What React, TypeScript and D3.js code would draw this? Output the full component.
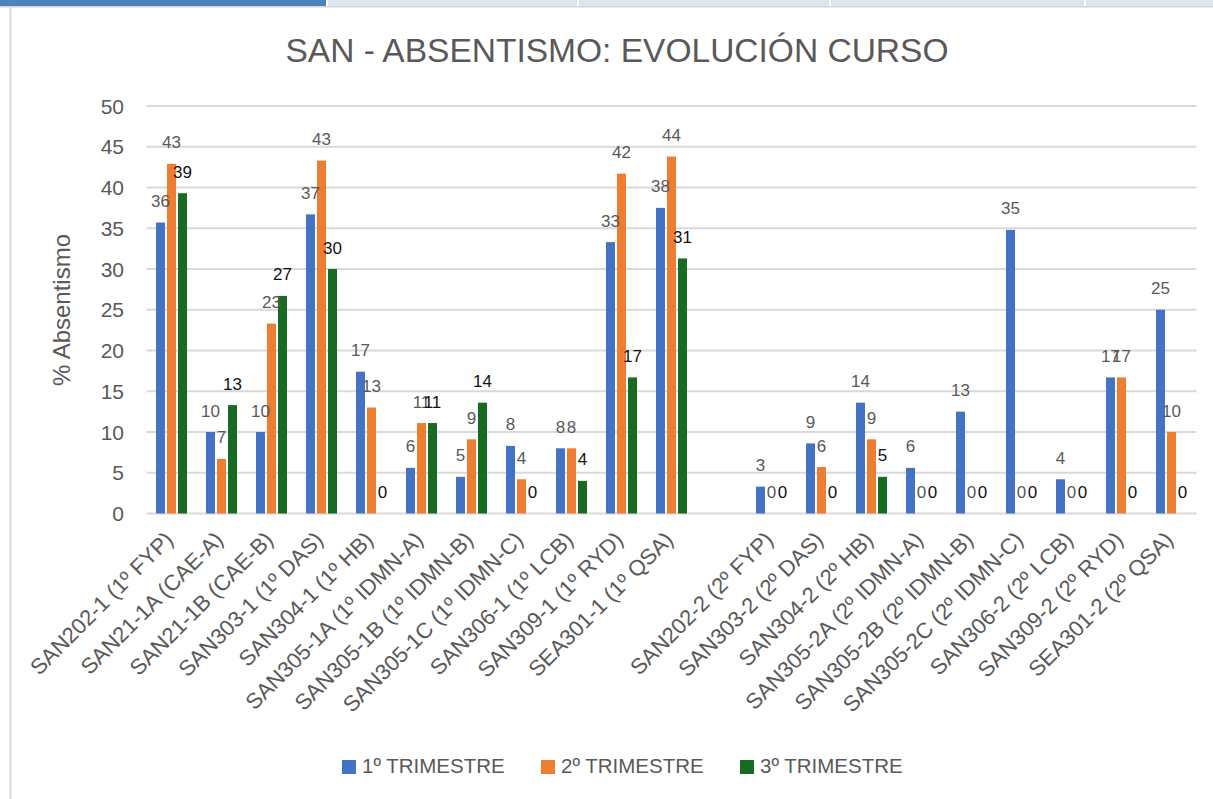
import React from "react";
import * as d3 from "d3";

const categories = [
  "SAN202-1 (1º FYP)", "SAN21-1A (CAE-A)", "SAN21-1B (CAE-B)", "SAN303-1 (1º DAS)",
  "SAN304-1 (1º HB)", "SAN305-1A (1º IDMN-A)", "SAN305-1B (1º IDMN-B)", "SAN305-1C (1º IDMN-C)",
  "SAN306-1 (1º LCB)", "SAN309-1 (1º RYD)", "SEA301-1 (1º QSA)", "",
  "SAN202-2 (2º FYP)", "SAN303-2 (2º DAS)", "SAN304-2 (2º HB)", "SAN305-2A (2º IDMN-A)",
  "SAN305-2B (2º IDMN-B)", "SAN305-2C (2º IDMN-C)", "SAN306-2 (2º LCB)", "SAN309-2 (2º RYD)",
  "SEA301-2 (2º QSA)",
];

const trimestre1: (number | null)[] = [35.7, 10, 10, 36.7, 17.4, 5.6, 4.5, 8.3, 8, 33.3, 37.5, null, 3.3, 8.6, 13.6, 5.6, 12.5, 34.8, 4.2, 16.7, 25];
const trimestre2: (number | null)[] = [42.9, 6.7, 23.3, 43.3, 13, 11.1, 9.1, 4.2, 8, 41.7, 43.8, null, 0, 5.7, 9.1, 0, 0, 0, 0, 16.7, 10];
const trimestre3: (number | null)[] = [39.3, 13.3, 26.7, 30, 0, 11.1, 13.6, 0, 4, 16.7, 31.3, null, 0, 0, 4.5, 0, 0, 0, 0, 0, 0];

const seriesNames = ["1º TRIMESTRE", "2º TRIMESTRE", "3º TRIMESTRE"];
const seriesColors = ["#4472c4", "#ed7d31", "#196b24"];
const labelColors = ["#595959", "#595959", "#111111"];
const yTicks = [0, 5, 10, 15, 20, 25, 30, 35, 40, 45, 50];

const title = "SAN - ABSENTISMO: EVOLUCIÓN CURSO";
const yTitle = "% Absentismo";

const W = 1213;
const H = 799;
const FONT = "'Liberation Sans', Arial, sans-serif";

export default function App() {
  const series = [trimestre1, trimestre2, trimestre3];
  const x = d3.scaleBand<string>().domain(categories.map((c, i) => i + "|" + c)).range([146.5, 1196.5]).padding(0);
  const xs = d3.scaleBand<number>().domain([0, 1, 2]).range([0, x.bandwidth()]).paddingInner(0.182).paddingOuter(0.864);
  const y = d3.scaleLinear().domain([0, 50]).range([513.5, 106]);

  const keys = x.domain();
  const tabs = [
    { x0: 0, x1: 326, c: "#4f81bd" },
    { x0: 328, x1: 577, c: "#dce6f1" },
    { x0: 579, x1: 829, c: "#dce6f1" },
    { x0: 831, x1: 1084, c: "#dce6f1" },
    { x0: 1086, x1: 1213, c: "#dce6f1" },
  ];

  return (
    <svg width={W} height={H} style={{ position: "absolute", left: 0, top: 0, background: "#fff" }} fontFamily={FONT}>
      <rect x={0} y={0} width={W} height={H} fill="#fff" />
      {tabs.map((t, i) => (
        <rect key={i} x={t.x0} y={0} width={t.x1 - t.x0} height={6} fill={t.c} />
      ))}
      <rect x={0} y={6} width={W} height={1.5} fill="#d4d4d4" />
      <rect x={9.5} y={7} width={2} height={H - 7} fill="#d9d9d9" />

      <text x={617} y={62} textAnchor="middle" fontSize={33} fill="#595959" textLength={663} lengthAdjust="spacingAndGlyphs">
        {title}
      </text>

      {yTicks.map((t) => (
        <g key={t}>
          <line x1={146.5} x2={1196.5} y1={y(t)} y2={y(t)} stroke="#d9d9d9" strokeWidth={2} />
          <text x={124} y={y(t)} dy="0.36em" textAnchor="end" fontSize={21} fill="#595959">
            {t}
          </text>
        </g>
      ))}

      <text transform={`translate(70,310) rotate(-90)`} textAnchor="middle" fontSize={24} fill="#595959">
        {yTitle}
      </text>

      {series.map((vals, s) => (
        <g key={s}>
          {vals.map((v, i) =>
            v === null || v === 0 ? null : (
              <rect
                key={i}
                x={(x(keys[i]) as number) + (xs(s) as number)}
                y={y(v)}
                width={xs.bandwidth()}
                height={y(0) - y(v)}
                fill={seriesColors[s]}
              />
            )
          )}
        </g>
      ))}

      {series.map((vals, s) => (
        <g key={"l" + s}>
          {vals.map((v, i) =>
            v === null ? null : (
              <text
                key={i}
                x={(x(keys[i]) as number) + (xs(s) as number) + xs.bandwidth() / 2}
                y={y(v) - 15.5}
                textAnchor="middle"
                fontSize={17}
                fill={labelColors[s]}
              >
                {Math.round(v)}
              </text>
            )
          )}
        </g>
      ))}

      {categories.map((c, i) =>
        c === "" ? null : (
          <text
            key={i}
            transform={`translate(${(x(keys[i]) as number) + x.bandwidth() / 2 + 3},541) rotate(-45)`}
            textAnchor="end"
            fontSize={22}
            fill="#595959"
          >
            {c}
          </text>
        )
      )}

      {seriesNames.map((n, s) => (
        <g key={n} transform={`translate(${342 + s * 199},0)`}>
          <rect x={0} y={760} width={14} height={14} fill={seriesColors[s]} />
          <text x={20} y={773} fontSize={20.5} fill="#595959">
            {n}
          </text>
        </g>
      ))}
    </svg>
  );
}
